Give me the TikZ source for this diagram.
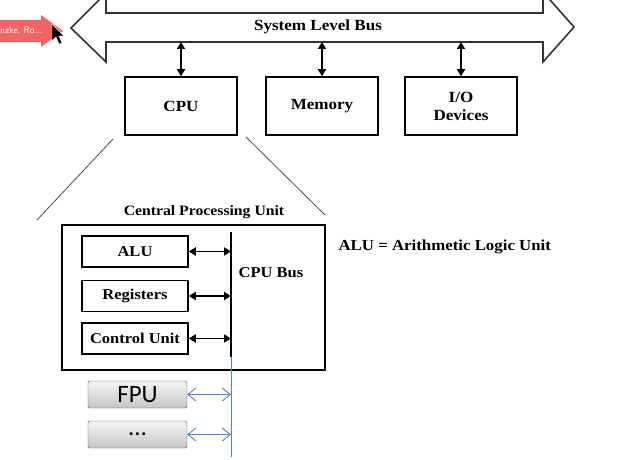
\documentclass[tikz,border=0pt]{standalone}
\usepackage{fontspec}
\setmainfont[FakeStretch=1.1]{Liberation Serif}
\newfontfamily\fpufont{Carlito}
\usetikzlibrary{arrows.meta}
\definecolor{busblue}{RGB}{84,130,200}
\definecolor{tagred}{RGB}{240,100,100}
\tikzset{
  unit/.style={draw,line width=1.5pt,minimum width=112pt,minimum height=58pt,
    align=center,font=\bfseries\fontsize{15.5}{18}\selectfont},
  part/.style={draw,line width=1.5pt,minimum width=106pt,minimum height=31pt,
    font=\bfseries\fontsize{15}{17}\selectfont},
  extra/.style={draw=gray!60!black,rounded corners=1.5pt,top color=gray!8,
    bottom color=gray!45,minimum width=99pt,minimum height=27pt,
    font=\fpufont\fontsize{25}{27}\selectfont},
  link/.style={{Triangle[length=7pt,width=8pt]}-{Triangle[length=7pt,width=8pt]},line width=1.7pt},
  bluelink/.style={{Straight Barb[length=8pt,width=13pt]}-{Straight Barb[length=8pt,width=13pt]},busblue,line width=0.9pt}
}
\begin{document}
\begin{tikzpicture}[x=1pt,y=-1pt]
\useasboundingbox (0,0) rectangle (633,460);
\draw[line width=1.6pt,black!80,line join=miter] (71,28) -- (106,-7) -- (106,13) -- (543,13) -- (543,-8)
  -- (574,27) -- (543,62) -- (543,42) -- (106,42) -- (106,62) -- cycle;
\node (sysbus) [font=\bfseries\fontsize{15.5}{17}\selectfont] at (318,27) {System Level Bus};
\coordinate (busbottom) at (318,42);
\node (cpu) [unit] at (181,106) {CPU};
\node (mem) [unit] at (322,106) {Memory};
\node (io) [unit] at (461,106) {I/O\\Devices};
\draw [link] (cpu.north |- busbottom) -- (cpu.north);
\draw [link] (mem.north |- busbottom) -- (mem.north);
\draw [link] (io.north |- busbottom) -- (io.north);
\draw [black!70,line width=0.8pt] (113,139) -- (37,220);
\draw [black!70,line width=0.8pt] (246,137) -- (325,215);
\node (cpubox) [draw,line width=1.5pt,minimum width=263pt,minimum height=145pt] at (193.5,297.5) {};
\node (cpuname) [font=\bfseries\fontsize{14.3}{16}\selectfont] at (204,212) {Central Processing Unit};
\node (alu) [part] at (135,251.5) {ALU};
\node (reg) [part] at (135,296) {Registers};
\node (cu) [part] at (135,338.5) {Control Unit};
\coordinate (bustop) at (231,232);
\coordinate (busend) at (231,357);
\coordinate (buslow) at (231,457);
\draw [line width=2.8pt] (bustop) -- (busend);
\draw [busblue,line width=0.9pt] (busend) -- (buslow);
\node (cpubus) [font=\bfseries\fontsize{15}{17}\selectfont] at (271,273) {CPU Bus};
\draw [link] (alu.east) -- (alu.east -| bustop);
\draw [link] (reg.east) -- (reg.east -| bustop);
\draw [link] (cu.east) -- (cu.east -| bustop);
\node (fpu) [extra] at (137.5,394.5) {FPU};
\node (more) [extra] at (137.5,434.5) {...};
\draw [bluelink] (fpu.east) -- (fpu.east -| buslow);
\draw [bluelink] (more.east) -- (more.east -| buslow);
\node (alunote) [anchor=west,font=\bfseries\fontsize{15.3}{17}\selectfont] at (335,247) {ALU = Arithmetic Logic Unit};
\fill [tagred] (0,20) -- (41,20) -- (41,15) -- (63,31) -- (41,47) -- (41,42) -- (0,42) -- cycle;
\node (tag) [anchor=west,inner sep=0pt,text=white,font=\sffamily\fontsize{9.5}{11}\selectfont] at (0,31) {nzke, Ro...};
\filldraw [fill=black,draw=white,line width=0.4pt] (52,24) -- (52,41) -- (56,37) -- (59,44) -- (62,43) -- (59,36) -- (64,36) -- cycle;
\end{tikzpicture}
\end{document}
